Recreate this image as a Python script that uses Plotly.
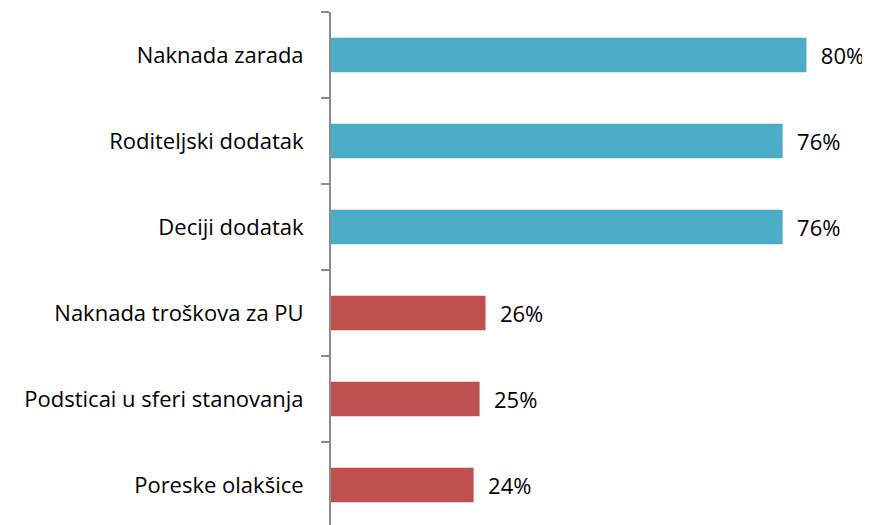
import plotly.graph_objects as go

categories = [
    "Naknada zarada",
    "Roditeljski dodatak",
    "Deciji dodatak",
    "Naknada troškova za PU",
    "Podsticai u sferi stanovanja",
    "Poreske olakšice",
]
values = [80, 76, 76, 26, 25, 24]
bar_colors = ["#4BACC6", "#4BACC6", "#4BACC6", "#C0504D", "#C0504D", "#C0504D"]

FONT = "'Open Sans', 'Noto Sans', sans-serif"

fig = go.Figure(
    go.Bar(
        x=values,
        y=categories,
        orientation="h",
        marker=dict(color=bar_colors, line=dict(width=0)),
        text=[f"{v}%" for v in values],
        texttemplate="  %{text}",
        textposition="outside",
        textfont=dict(family=FONT, size=22, color="#000000"),
        cliponaxis=False,
        hoverinfo="skip",
    )
)

# page body has an 8px margin, so the figure is shifted to sit where the original does
fig.update_layout(
    width=862,
    height=517,
    margin=dict(l=323, r=0, t=4, b=0),
    paper_bgcolor="white",
    plot_bgcolor="white",
    showlegend=False,
    bargap=0.6,
    font=dict(family=FONT, size=22, color="#000000"),
)

fig.update_xaxes(
    range=[0, 90.7],
    visible=False,
    showgrid=False,
    zeroline=False,
    automargin=False,
)

fig.update_yaxes(
    type="category",
    categoryorder="array",
    categoryarray=categories,
    range=[5.465, -0.5],
    showline=True,
    linecolor="#8C8C8C",
    linewidth=2,
    ticks="outside",
    tickson="boundaries",
    ticklen=8,
    tickwidth=2,
    tickcolor="#8C8C8C",
    ticklabelstandoff=21,
    showgrid=False,
    zeroline=False,
    automargin=False,
    tickfont=dict(family=FONT, size=22, color="#000000"),
)

fig.write_html("out.html")
